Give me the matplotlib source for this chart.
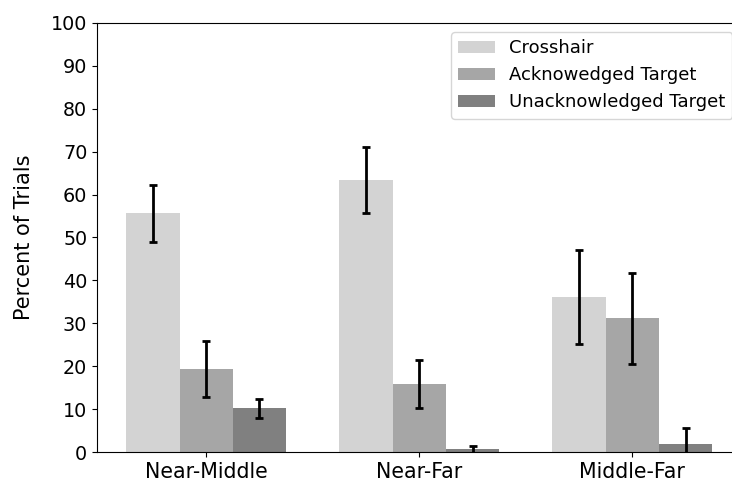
import matplotlib
matplotlib.use("Agg")
import matplotlib.pyplot as plt
import numpy as np

conditions = ["Near-Middle", "Near-Far", "Middle-Far"]
series = ["Crosshair", "Acknowedged Target", "Unacknowledged Target"]
crosshair = [55.6, 63.4, 36.2]
crosshair_err = [6.6, 7.8, 11.0]
acknowledged = [19.3, 15.9, 31.2]
acknowledged_err = [6.5, 5.6, 10.6]
unacknowledged = [10.2, 0.6, 1.8]
unacknowledged_err = [2.2, 0.9, 3.9]
colors = ["#d3d3d3", "#a6a6a6", "#808080"]

fig = plt.figure(figsize=(7.32, 4.84), dpi=100)
ax = fig.add_axes([0.1325, 0.0661, 0.8805, 0.8864])

x = np.arange(len(conditions))
width = 0.25
values = [crosshair, acknowledged, unacknowledged]
errors = [crosshair_err, acknowledged_err, unacknowledged_err]
for i, (vals, errs, name, col) in enumerate(zip(values, errors, series, colors)):
    ax.bar(x + (i - 1) * width, vals, width, yerr=errs, color=col, label=name,
           error_kw=dict(ecolor="black", elinewidth=2, capsize=3, capthick=2))

ax.set_ylim(0, 100)
ax.set_yticks(np.arange(0, 101, 10))
ax.set_xticks(x)
ax.set_xticklabels(conditions)
ax.tick_params(axis="y", labelsize=13.8)
ax.tick_params(axis="x", labelsize=14.8)
ax.spines["right"].set_visible(False)
ax.set_ylabel("Percent of Trials", fontsize=15, labelpad=12)
ax.legend(loc="upper right", fontsize=13)

fig.savefig("out.png", dpi=100)
